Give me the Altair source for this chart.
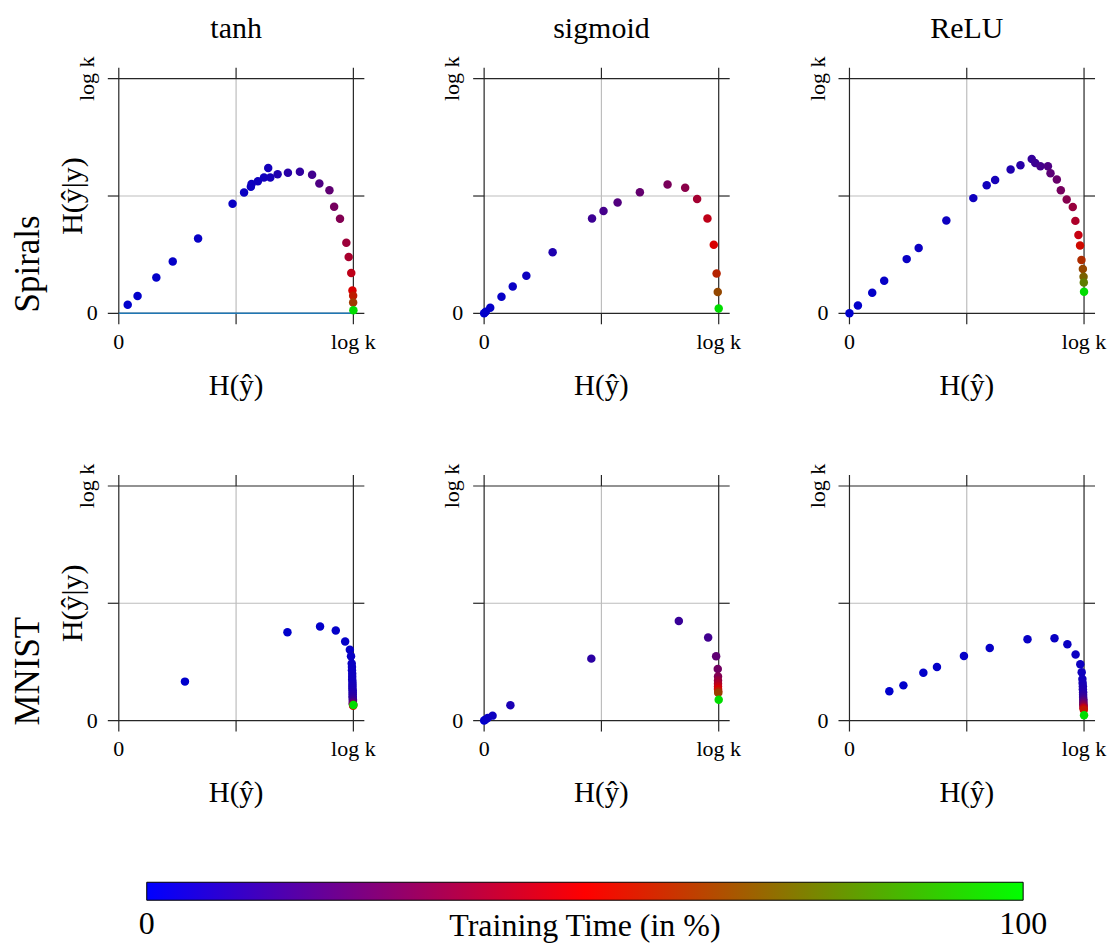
import altair as alt
import pandas as pd

# ---------------- data (normalised by log k) ----------------
COLUMNS = ["tanh", "sigmoid", "ReLU"]
ROWS = ["Spirals", "MNIST"]
TICK_VALUES = [0.0, 1.0]
TICK_TEXT = ["0", "log k"]
X_TITLE = "H(ŷ)"
Y_TITLE = "H(ŷ|y)"
CBAR_TITLE = "Training Time (in %)"
CBAR_TICKS = [0, 100]
CBAR_TICK_TEXT = ["0", "100"]
CBAR_COLORS = ["#0000ff", "#ff0000", "#00ff00"]
DOT_COLORS = ["#0000cc", "#d80000", "#00dd00"]

SPIRALS_TANH_X = [0.038, 0.080, 0.160, 0.230, 0.338, 0.485, 0.534, 0.563, 0.566, 0.593, 0.619, 0.637, 0.646,
                  0.677, 0.721, 0.772, 0.824, 0.855, 0.898, 0.918, 0.943, 0.970, 0.980, 0.991, 0.996, 0.999,
                  0.999, 1.000]
SPIRALS_TANH_Y = [0.036, 0.074, 0.153, 0.221, 0.319, 0.467, 0.515, 0.539, 0.551, 0.563, 0.579, 0.619, 0.579,
                  0.593, 0.599, 0.603, 0.591, 0.553, 0.525, 0.454, 0.403, 0.301, 0.240, 0.172, 0.097, 0.075,
                  0.046, 0.013]
SPIRALS_TANH_T = [0, 0.4, 0.8, 1.2, 1.6, 2, 2.4, 2.8, 3.2, 3.6, 4, 4.4, 4.8, 7, 9, 11, 15, 18, 22, 27, 30, 36,
                  39, 44, 50, 56, 63, 100]

SPIRALS_SIG_X = [0.000, 0.007, 0.026, 0.074, 0.122, 0.180, 0.292, 0.460, 0.509, 0.569, 0.664, 0.782, 0.857,
                 0.908, 0.952, 0.979, 0.991, 0.996, 1.000]
SPIRALS_SIG_Y = [0.000, 0.007, 0.024, 0.071, 0.114, 0.160, 0.260, 0.404, 0.436, 0.472, 0.516, 0.549, 0.535,
                 0.487, 0.404, 0.292, 0.170, 0.091, 0.020]
SPIRALS_SIG_T = [0, 0.5, 1, 1.5, 2, 3, 7, 14, 16, 19, 23, 28, 32, 38, 44, 50, 58, 66, 100]

SPIRALS_RELU_X = [0.000, 0.036, 0.097, 0.148, 0.244, 0.295, 0.413, 0.528, 0.585, 0.621, 0.687, 0.729, 0.777,
                  0.792, 0.814, 0.846, 0.857, 0.884, 0.901, 0.926, 0.952, 0.963, 0.976, 0.983, 0.989, 0.995,
                  0.998, 0.999, 1.000]
SPIRALS_RELU_Y = [0.000, 0.033, 0.088, 0.139, 0.231, 0.278, 0.396, 0.491, 0.546, 0.568, 0.613, 0.631, 0.658,
                  0.641, 0.627, 0.627, 0.597, 0.570, 0.525, 0.485, 0.453, 0.394, 0.334, 0.289, 0.227, 0.189,
                  0.156, 0.131, 0.092]
SPIRALS_RELU_T = [0, 0.5, 1, 1.5, 2, 2.5, 3, 3.5, 4, 5, 7, 9, 12, 14, 16, 18, 21, 24, 27, 31, 35, 40, 46, 52,
                  60, 66, 72, 78, 100]

MNIST_TANH_X = [0.282, 0.719, 0.858, 0.925, 0.965, 0.985, 0.990, 0.993, 0.994, 0.994, 0.995, 0.995, 0.995,
                0.996, 0.996, 0.996, 0.996, 0.997, 0.997, 0.997, 0.997, 0.997, 0.998, 0.998, 0.998, 0.998,
                0.998, 0.999, 0.999, 1.000]
MNIST_TANH_Y = [0.166, 0.376, 0.401, 0.384, 0.337, 0.302, 0.274, 0.243, 0.228, 0.214, 0.200, 0.187, 0.175,
                0.164, 0.154, 0.145, 0.136, 0.128, 0.120, 0.112, 0.104, 0.097, 0.090, 0.084, 0.079, 0.074,
                0.070, 0.067, 0.063, 0.066]
MNIST_TANH_T = [0, 0.3, 0.6, 0.9, 1.2, 1.5, 1.8, 2.1, 2.4, 2.7, 3, 3.3, 3.6, 4, 4.5, 5, 5.5, 6, 7, 8, 9, 10,
                12, 14, 17, 21, 26, 32, 50, 100]

MNIST_SIG_X = [0.000, 0.006, 0.015, 0.036, 0.112, 0.457, 0.830, 0.955, 0.989, 0.996, 0.997, 0.997, 0.997,
               0.997, 0.997, 0.998, 0.998, 1.000]
MNIST_SIG_Y = [0.000, 0.004, 0.011, 0.021, 0.065, 0.264, 0.424, 0.354, 0.274, 0.220, 0.188, 0.171, 0.157,
               0.145, 0.135, 0.125, 0.118, 0.089]
MNIST_SIG_T = [0, 1, 2, 3, 6, 10, 13, 15, 22, 26, 30, 35, 40, 45, 50, 57, 64, 100]

MNIST_RELU_X = [0.170, 0.230, 0.315, 0.373, 0.488, 0.598, 0.759, 0.874, 0.929, 0.964, 0.984, 0.990, 0.993,
                0.994, 0.995, 0.995, 0.996, 0.996, 0.996, 0.997, 0.997, 0.997, 0.997, 0.998, 0.998, 0.998,
                0.999, 1.000]
MNIST_RELU_Y = [0.125, 0.150, 0.204, 0.228, 0.275, 0.309, 0.347, 0.351, 0.325, 0.282, 0.240, 0.206, 0.177,
                0.160, 0.146, 0.133, 0.121, 0.110, 0.100, 0.091, 0.083, 0.076, 0.070, 0.064, 0.058, 0.052,
                0.046, 0.023]
MNIST_RELU_T = [0, 0.3, 0.6, 0.9, 1.2, 1.5, 1.8, 2.1, 2.4, 2.7, 3, 3.5, 4, 5, 6, 7, 8, 10, 12, 15, 19, 23,
                27, 31, 37, 45, 55, 100]

PANELS = [
    (SPIRALS_TANH_X, SPIRALS_TANH_Y, SPIRALS_TANH_T),
    (SPIRALS_SIG_X, SPIRALS_SIG_Y, SPIRALS_SIG_T),
    (SPIRALS_RELU_X, SPIRALS_RELU_Y, SPIRALS_RELU_T),
    (MNIST_TANH_X, MNIST_TANH_Y, MNIST_TANH_T),
    (MNIST_SIG_X, MNIST_SIG_Y, MNIST_SIG_T),
    (MNIST_RELU_X, MNIST_RELU_Y, MNIST_RELU_T),
]

# ---------------- styling ----------------
FONT = "Liberation Serif, DejaVu Serif, serif"
PAD = 0.0468
LO, HI = -PAD, 1 + PAD
SIZE = 257
FRAME = "#262626"
GRID = "#bdbdbd"


def scale():
    return alt.Scale(domain=[LO, HI], nice=False, zero=False)


def X(f):
    return alt.X(f, type="quantitative", scale=scale(), axis=None)


def Y(f):
    return alt.Y(f, type="quantitative", scale=scale(), axis=None)


def frame_df():
    rows = [
        dict(x=0.5, x2=0.5, y=0, y2=1, c=GRID),
        dict(x=0, x2=1, y=0.5, y2=0.5, c=GRID),
        dict(x=0.5, x2=0.5, y=LO, y2=0, c=FRAME),
        dict(x=0.5, x2=0.5, y=1, y2=HI, c=FRAME),
        dict(x=LO, x2=0, y=0.5, y2=0.5, c=FRAME),
        dict(x=1, x2=HI, y=0.5, y2=0.5, c=FRAME),
    ]
    for v in (0, 1):
        rows.append(dict(x=LO, x2=HI, y=v, y2=v, c=FRAME))
        rows.append(dict(x=v, x2=v, y=LO, y2=HI, c=FRAME))
    return pd.DataFrame(rows)


def text_layer(df, size, **kw):
    return alt.Chart(df).mark_text(font=FONT, fontSize=size, color="black", **kw).encode(
        x=X("x"), y=Y("y"), text="s:N")


def panel(i):
    r, c = divmod(i, 3)
    xs, ys, ts = PANELS[i]
    layers = []
    layers.append(alt.Chart(frame_df()).mark_rule(strokeWidth=1.2).encode(
        x=X("x"), x2="x2", y=Y("y"), y2="y2", color=alt.Color("c:N", scale=None)))
    if i == 0:
        base = pd.DataFrame({"x": [0.0], "x2": [1.0], "y": [0.0]})
        layers.append(alt.Chart(base).mark_rule(strokeWidth=1.6, color="#1f77b4").encode(
            x=X("x"), x2="x2", y=Y("y")))
    pts = pd.DataFrame({"x": xs, "y": ys, "t": ts})
    layers.append(alt.Chart(pts).mark_circle(size=72, opacity=1).encode(
        x=X("x"), y=Y("y"),
        color=alt.Color("t:Q", scale=alt.Scale(domain=[0, 100], range=DOT_COLORS, interpolate="rgb"),
                        legend=None)))
    # tick labels
    layers.append(text_layer(pd.DataFrame({"x": TICK_VALUES, "y": [LO, LO], "s": TICK_TEXT}), 22,
                             align="center", baseline="middle", dy=18))
    layers.append(text_layer(pd.DataFrame({"x": [LO], "y": [0.0], "s": [TICK_TEXT[0]]}), 22,
                             align="right", baseline="middle", dx=-10))
    layers.append(text_layer(pd.DataFrame({"x": [LO], "y": [1.0], "s": [TICK_TEXT[1]]}), 22,
                             align="center", baseline="middle", angle=270, dy=-21))
    # axis titles
    layers.append(text_layer(pd.DataFrame({"x": [0.5], "y": [LO], "s": [X_TITLE]}), 29,
                             align="center", baseline="middle", dy=62))
    if c == 0:
        layers.append(text_layer(pd.DataFrame({"x": [LO], "y": [0.5], "s": [Y_TITLE]}), 30,
                                 align="center", baseline="middle", angle=270, dy=-35))
        layers.append(text_layer(pd.DataFrame({"x": [LO], "y": [0.5], "s": [ROWS[r]]}), 35,
                                 align="center", baseline="middle", angle=270, dy=-80, dx=-68))
    if r == 0:
        layers.append(text_layer(pd.DataFrame({"x": [0.5], "y": [HI], "s": [COLUMNS[c]]}), 30,
                                 align="center", baseline="alphabetic", dy=-30))
    return alt.layer(*layers).properties(width=SIZE, height=SIZE)


panels = [panel(i) for i in range(6)]

# ---------------- colour bar ----------------
cx = alt.Scale(domain=[0, 100], range=[39, 917], nice=False, zero=False)
grad = alt.Gradient(
    gradient="linear",
    stops=[alt.GradientStop(color=CBAR_COLORS[0], offset=0),
           alt.GradientStop(color=CBAR_COLORS[1], offset=0.5),
           alt.GradientStop(color=CBAR_COLORS[2], offset=1)],
    x1=0, x2=1, y1=0, y2=0)
bar = alt.Chart(pd.DataFrame({"t0": [CBAR_TICKS[0]], "t1": [CBAR_TICKS[1]]})).mark_rect(
    fill=grad, stroke="black", strokeWidth=1).encode(
    x=alt.X("t0:Q", scale=cx, axis=None), x2="t1:Q")
cb_labels = alt.Chart(pd.DataFrame({"t": CBAR_TICKS, "s": CBAR_TICK_TEXT})).mark_text(
    font=FONT, fontSize=32, color="black", dy=33, baseline="middle").encode(
    x=alt.X("t:Q", scale=cx, axis=None), text="s:N")
cb_title = alt.Chart(pd.DataFrame({"t": [50], "s": [CBAR_TITLE]})).mark_text(
    font=FONT, fontSize=32, color="black", dy=35, baseline="middle").encode(
    x=alt.X("t:Q", scale=cx, axis=None), text="s:N")
cbar = alt.layer(bar, cb_labels, cb_title).properties(width=SIZE, height=18)

chart = alt.concat(*panels, cbar, columns=3, spacing={"row": 151, "column": 109},
                   bounds="flush").properties(
    padding={"left": 3, "top": 5, "right": 0, "bottom": 2}).configure_view(stroke=None)

chart.save("out.html", embed_options={"renderer": "svg", "actions": False})
